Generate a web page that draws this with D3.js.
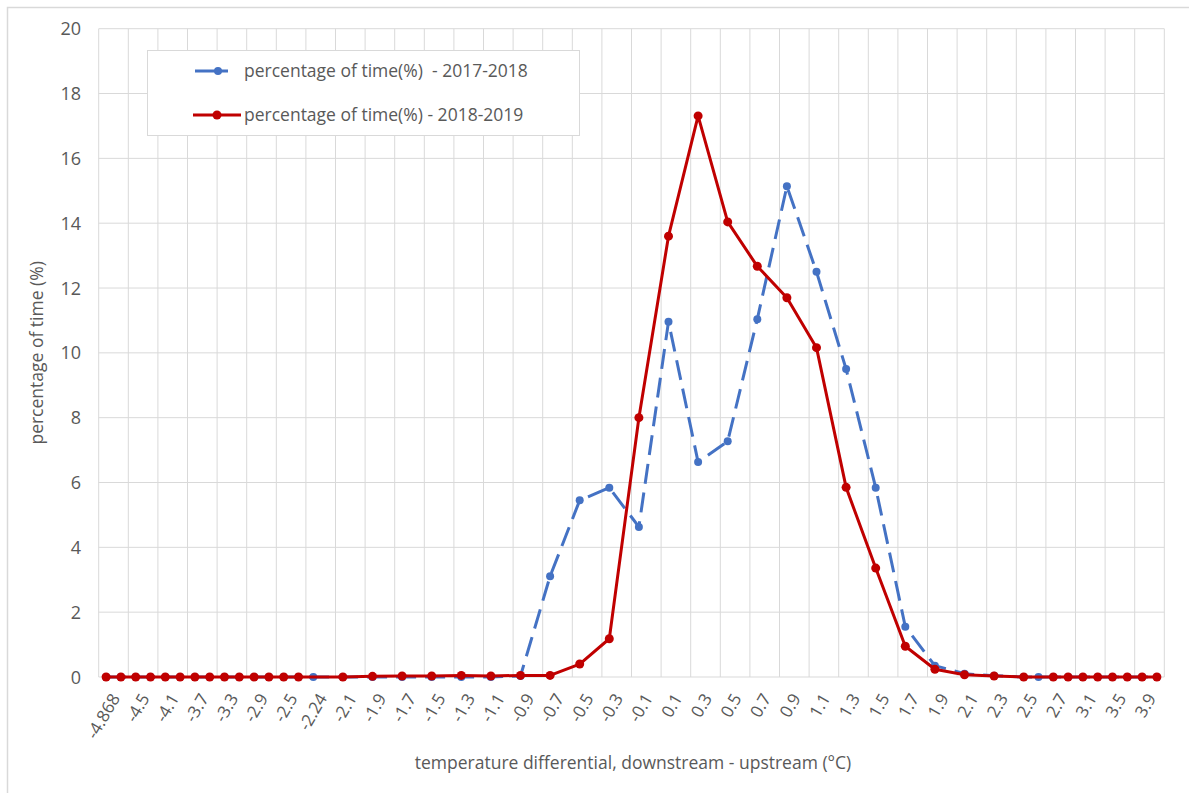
<!DOCTYPE html>
<html>
<head>
<meta charset="utf-8">
<script src="https://cdn.jsdelivr.net/npm/d3@7"></script>
<style>
  html, body { margin: 0; padding: 0; background: #ffffff; }
  svg { display: block; }
  text { font-family: "Open Sans", "Liberation Sans", sans-serif; fill: #595959; }
</style>
</head>
<body>
<svg id="chart" width="1189" height="793"></svg>
<script>
// ---- data ----
const categories = [
  "-4.868","-4.7","-4.5","-4.3","-4.1","-3.9","-3.7","-3.5","-3.3","-3.1",
  "-2.9","-2.7","-2.5","-2.3","-2.24","-2.2","-2.1","-2.0","-1.9","-1.8",
  "-1.7","-1.6","-1.5","-1.4","-1.3","-1.2","-1.1","-1.0","-0.9","-0.8",
  "-0.7","-0.6","-0.5","-0.4","-0.3","-0.2","-0.1","0.0","0.1","0.2",
  "0.3","0.4","0.5","0.6","0.7","0.8","0.9","1.0","1.1","1.2",
  "1.3","1.4","1.5","1.6","1.7","1.8","1.9","2.0","2.1","2.2",
  "2.3","2.4","2.5","2.6","2.7","2.9","3.1","3.3","3.5","3.7",
  "3.9","4.1"
];
const tickLabels = [
  "-4.868","-4.5","-4.1","-3.7","-3.3","-2.9","-2.5","-2.24","-2.1","-1.9",
  "-1.7","-1.5","-1.3","-1.1","-0.9","-0.7","-0.5","-0.3","-0.1","0.1",
  "0.3","0.5","0.7","0.9","1.1","1.3","1.5","1.7","1.9","2.1",
  "2.3","2.5","2.7","3.1","3.5","3.9"
];
const yTicks = [0,2,4,6,8,10,12,14,16,18,20];

// percentage of time(%) - 2017-2018  (null = no value in that category)
const series2017 = [
  0,0,0,0,0,0,0,0,0,0,
  0,0,0,0,0,null,0,null,0,null,
  0,null,0,null,0,null,0,null,0.03,null,
  3.11,null,5.45,null,5.84,null,4.63,null,10.96,null,
  6.63,null,7.27,null,11.04,null,15.14,null,12.5,null,
  9.5,null,5.84,null,1.55,null,0.35,null,0.1,null,
  0.04,null,0,0,0,0,0,0,0,0,
  0,0
];
// percentage of time(%) - 2018-2019
const series2018 = [
  0,0,0,0,0,0,0,0,0,0,
  0,0,0,0,null,null,0,null,0.02,null,
  0.03,null,0.03,null,0.05,null,0.03,null,0.05,null,
  0.05,null,0.4,null,1.18,null,8.0,null,13.6,null,
  17.31,null,14.04,null,12.67,null,11.7,null,10.16,null,
  5.85,null,3.36,null,0.95,null,0.24,null,0.07,null,
  0.03,null,0,null,0,0,0,0,0,0,
  0,0
];
const seriesNames = ["percentage of time(%)  - 2017-2018", "percentage of time(%) - 2018-2019"];
const seriesColors = ["#4472C4", "#C00000"];

// ---- layout ----
const svg = d3.select("#chart");
const W = 1189, H = 793;
const plot = { left: 98.7, right: 1164.3, top: 28.7, bottom: 677 };

// outer chart border
svg.append("rect")
  .attr("x", 7.5).attr("y", 7.5)
  .attr("width", W + 10).attr("height", H + 10)
  .attr("fill", "#ffffff").attr("stroke", "#d9d9d9").attr("stroke-width", 1.5);

const x = d3.scaleBand().domain(categories).range([plot.left, plot.right]).paddingInner(0).paddingOuter(0);
const bw = x.bandwidth();
const cx = c => x(c) + bw / 2;
const y = d3.scaleLinear().domain([0, 20]).range([plot.bottom, plot.top]);

// gridlines
const grid = svg.append("g").attr("stroke", "#d9d9d9").attr("stroke-width", 1);
const vLines = tickLabels.map(t => x(t)).concat([plot.right]);
grid.selectAll("line.v").data(vLines).enter().append("line")
  .attr("x1", d => d).attr("x2", d => d)
  .attr("y1", plot.top).attr("y2", plot.bottom);
grid.selectAll("line.h").data(yTicks).enter().append("line")
  .attr("x1", plot.left).attr("x2", plot.right)
  .attr("y1", d => y(d)).attr("y2", d => y(d));

// y axis labels
const yAxis = d3.axisLeft(y).tickValues(yTicks).tickSize(0).tickPadding(0).tickFormat(d3.format("d"));
const yg = svg.append("g").attr("transform", `translate(${81},0)`).call(yAxis);
yg.select(".domain").remove();
yg.selectAll("text").attr("font-size", 18).attr("fill", "#595959")
  .style("font-family", '"Open Sans", sans-serif').attr("dy", "0.34em");

// x axis labels
const xAxis = d3.axisBottom(x).tickValues(tickLabels).tickSize(0).tickPadding(0);
const xg = svg.append("g").attr("transform", `translate(0,${plot.bottom})`).call(xAxis);
xg.select(".domain").remove();
xg.selectAll(".tick text")
  .attr("font-size", 17).attr("fill", "#595959")
  .style("font-family", '"Open Sans", sans-serif')
  .attr("text-anchor", "end")
  .attr("x", 0).attr("y", 0).attr("dy", 0)
  .attr("transform", `translate(${bw/2 + 7},${21}) rotate(-60)`);

// axis titles
svg.append("text")
  .attr("transform", `translate(43,${(plot.top + plot.bottom) / 2}) rotate(-90)`)
  .attr("text-anchor", "middle").attr("font-size", 17.5).text("percentage of time (%)");
svg.append("text")
  .attr("x", 633).attr("y", 769)
  .attr("text-anchor", "middle").attr("font-size", 17.5)
  .text("temperature differential, downstream - upstream (°C)");

// series
const allSeries = [series2017, series2018];
const line = d3.line()
  .defined(d => d.v !== null)
  .x(d => cx(d.c)).y(d => y(d.v));
allSeries.forEach((vals, si) => {
  const pts = categories.map((c, i) => ({ c, v: vals[i] })).filter(d => d.v !== null);
  const g = svg.append("g");
  g.append("path").datum(pts)
    .attr("fill", "none").attr("stroke", seriesColors[si])
    .attr("stroke-width", 3)
    .attr("stroke-dasharray", si === 0 ? "20,9" : null)
    .attr("stroke-linejoin", "round")
    .attr("d", line);
  g.selectAll("circle").data(pts).enter().append("circle")
    .attr("cx", d => cx(d.c)).attr("cy", d => y(d.v))
    .attr("r", si === 0 ? 4 : 4.5)
    .attr("fill", seriesColors[si]);
});

// legend
const lg = svg.append("g");
lg.append("rect").attr("x", 147.5).attr("y", 50.5).attr("width", 432).attr("height", 85)
  .attr("fill", "#ffffff").attr("stroke", "#d9d9d9").attr("stroke-width", 1);
const legendRows = [
  { y: 71, x1: 195, x2: 228, mx: 218, tx: 244 },
  { y: 115, x1: 193, x2: 241, mx: 217, tx: 244 }
];
legendRows.forEach((r, i) => {
  lg.append("line").attr("x1", r.x1).attr("x2", r.x2).attr("y1", r.y).attr("y2", r.y)
    .attr("stroke", seriesColors[i]).attr("stroke-width", 3);
  lg.append("circle").attr("cx", r.mx).attr("cy", r.y).attr("r", i === 0 ? 4 : 4.5)
    .attr("fill", seriesColors[i]);
  lg.append("text").attr("x", r.tx).attr("y", r.y).attr("dy", "0.35em")
    .attr("font-size", 17.5).attr("xml:space", "preserve")
    .text(seriesNames[i]);
});
</script>
</body>
</html>
